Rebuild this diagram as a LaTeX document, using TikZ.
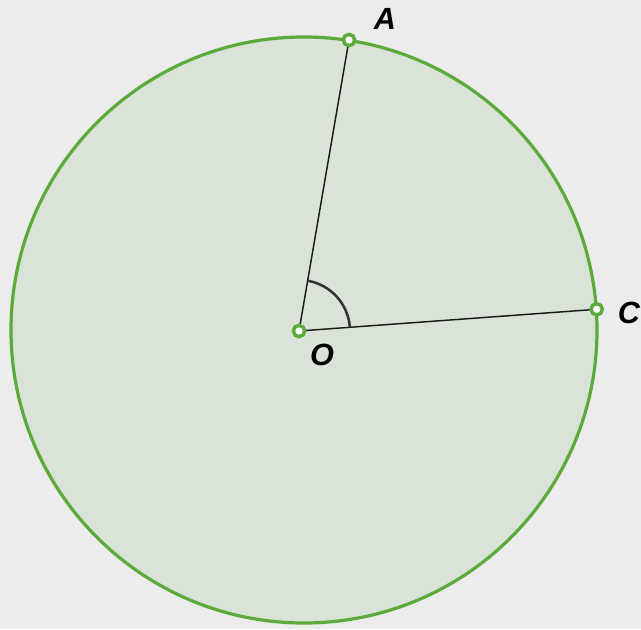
\documentclass[tikz,border=0pt]{standalone}
\usepackage{fontspec}
\setmainfont{Liberation Sans}
\definecolor{bgc}{RGB}{236,236,236}
\definecolor{fillc}{RGB}{218,227,216}
\definecolor{greenc}{RGB}{92,170,60}
\definecolor{linec}{RGB}{26,26,26}
\definecolor{arcc}{RGB}{51,51,51}
\tikzset{
  ptmark/.style={circle, draw=greenc, fill=white, line width=2.6pt, minimum size=8.5pt, inner sep=0pt},
  lbl/.style={font=\fontsize{23}{27}\selectfont\bfseries\itshape, text=black, inner sep=0pt},
  radius line/.style={draw=linec, line width=1.1pt},
}
\begin{document}
\begin{tikzpicture}[x=0.75pt,y=0.75pt]
\fill[bgc] (0,0) rectangle (641,629);
\useasboundingbox (0,0) rectangle (641,629);
\coordinate (M) at (304,299);
\coordinate (O) at (299,298);
\coordinate (A) at (349,589);
\coordinate (C) at (596.7,319.7);
\draw[greenc, fill=fillc, line width=2.4pt] (M) circle [radius=219.75pt];
\draw[radius line] (O) -- (A);
\draw[radius line] (O) -- (C);
\draw[arcc, line width=1.9pt] ([shift={(4.17:38.25pt)}]O) arc[start angle=4.17, end angle=80.25, radius=38.25pt];
\node[ptmark] (pO) at (O) {};
\node[ptmark] (pA) at (A) {};
\node[ptmark] (pC) at (C) {};
\node[lbl] (lA) at (385,610) {A};
\node[lbl] (lC) at (629,316) {C};
\node[lbl] (lO) at (322,274) {O};
\end{tikzpicture}
\end{document}
